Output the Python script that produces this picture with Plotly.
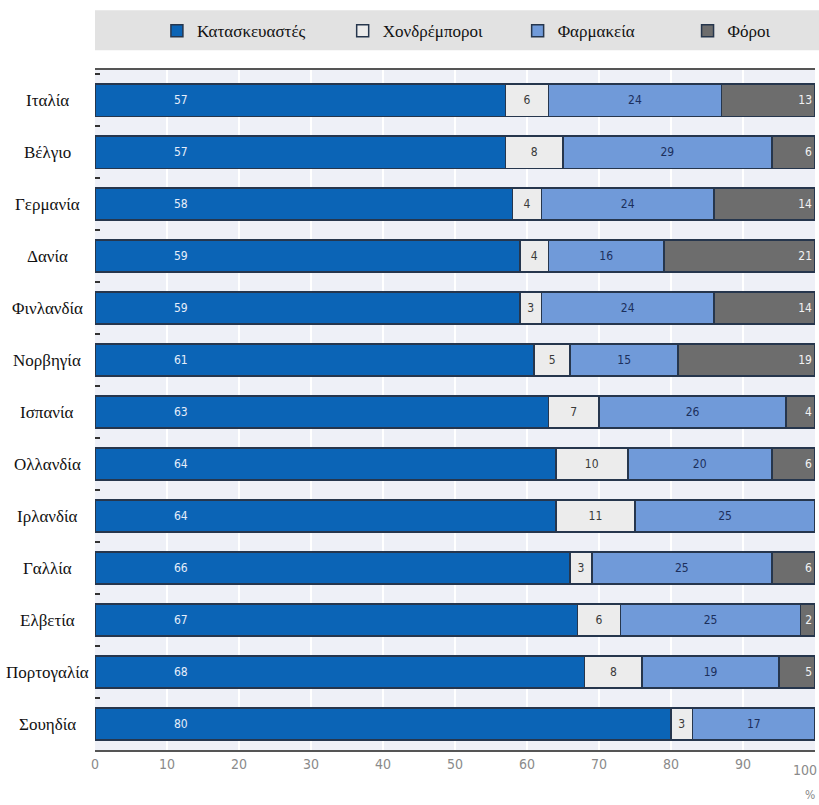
import plotly.graph_objects as go

countries = ["Ιταλία", "Βέλγιο", "Γερμανία", "Δανία", "Φινλανδία", "Νορβηγία",
             "Ισπανία", "Ολλανδία", "Ιρλανδία", "Γαλλία", "Ελβετία", "Πορτογαλία", "Σουηδία"]
manufacturers = [57, 57, 58, 59, 59, 61, 63, 64, 64, 66, 67, 68, 80]
wholesalers = [6, 8, 4, 4, 3, 5, 7, 10, 11, 3, 6, 8, 3]
pharmacies = [24, 29, 24, 16, 24, 15, 26, 20, 25, 25, 25, 19, 17]
taxes = [13, 6, 14, 21, 14, 19, 4, 6, 0, 6, 2, 5, 0]
x_ticks = [0, 10, 20, 30, 40, 50, 60, 70, 80, 90, 100]

# (name, values, fill, label colour, legend id, legend x)
series = [
    ("Κατασκευαστές", manufacturers, "#0b64b6", "rgba(255,255,255,0)", "legend", 0.086),
    ("Χονδρέμποροι", wholesalers, "#ececec", "#3a3a3a", "legend2", 0.344),
    ("Φαρμακεία", pharmacies, "#709ad9", "#1c2f5c", "legend3", 0.587),
    ("Φόροι", taxes, "#6d6d6d", "#f2f2f2", "legend4", 0.823),
]

narrow = "DejaVu Sans Condensed"
serif = "Liberation Serif"

fig = go.Figure()
legends = {}
for name, vals, color, txtcolor, leg, lx in series:
    texts = [str(v) if v > 0 else "" for v in vals]
    anchor = "end" if name == "Φόροι" else "middle"
    fig.add_trace(go.Bar(
        name=name, y=countries, x=vals, orientation="h", legend=leg,
        marker=dict(color=color, line=dict(color="#26364d", width=1.5)),
        text=texts, textposition="inside", insidetextanchor=anchor,
        textangle=0, constraintext="none",
        textfont=dict(family=narrow, size=12, color=txtcolor),
        hoverinfo="skip",
    ))
    legends[leg] = dict(orientation="h", x=lx, y=1.057, xanchor="left", yanchor="middle",
                        bgcolor="rgba(0,0,0,0)", itemwidth=30,
                        font=dict(family=serif, size=17, color="#111"))

annotations = []
# manufacturer share labels sit near the start of each bar
for c, v in zip(countries, manufacturers):
    annotations.append(dict(x=12, y=c, xref="x", yref="y", text=str(v),
                            showarrow=False, xanchor="center",
                            font=dict(family=narrow, size=12, color="#e6eefa")))
# country names, centred in the left margin
for c in countries:
    annotations.append(dict(x=-0.066, y=c, xref="paper", yref="y", text=c,
                            showarrow=False, xanchor="center",
                            font=dict(family=serif, size=17, color="#111")))
# last tick label kept inside the page
annotations.append(dict(x=x_ticks[-1], y=-0.03, xref="x", yref="paper",
                        text=str(x_ticks[-1]), showarrow=False, xanchor="right",
                        yanchor="middle", xshift=4,
                        font=dict(family=narrow, size=14, color="#8a8a8a")))
annotations.append(dict(x=0.993, y=-0.066, xref="paper", yref="paper", text="%",
                        showarrow=False, xanchor="center", yanchor="middle",
                        font=dict(family=narrow, size=12, color="#888")))

fig.update_layout(
    width=819, height=805,
    barmode="stack", bargap=0.38,
    margin=dict(l=95, r=4, t=70, b=55, autoexpand=False),
    paper_bgcolor="white", plot_bgcolor="#eef0f7",
    font=dict(family=serif),
    annotations=annotations,
    showlegend=True,
    shapes=[dict(type="rect", xref="paper", yref="paper", x0=0, x1=1.01,
                 y0=1.029, y1=1.088, fillcolor="#e2e2e2", line=dict(width=0),
                 layer="below")],
    xaxis=dict(range=[0, 100], tickvals=x_ticks[:-1], showgrid=True, gridcolor="white",
               gridwidth=2, zeroline=False, showline=True, mirror=True,
               linecolor="#555", linewidth=2,
               tickfont=dict(family=narrow, size=14, color="#8a8a8a"), ticks=""),
    yaxis=dict(categoryorder="array", categoryarray=countries,
               range=[12.5, -0.58], showticklabels=False, showgrid=False,
               ticks="inside", tickson="boundaries", ticklen=5, tickcolor="#333",
               tickwidth=2, showline=False, zeroline=False),
    **legends,
)

fig.write_html("out.html")
